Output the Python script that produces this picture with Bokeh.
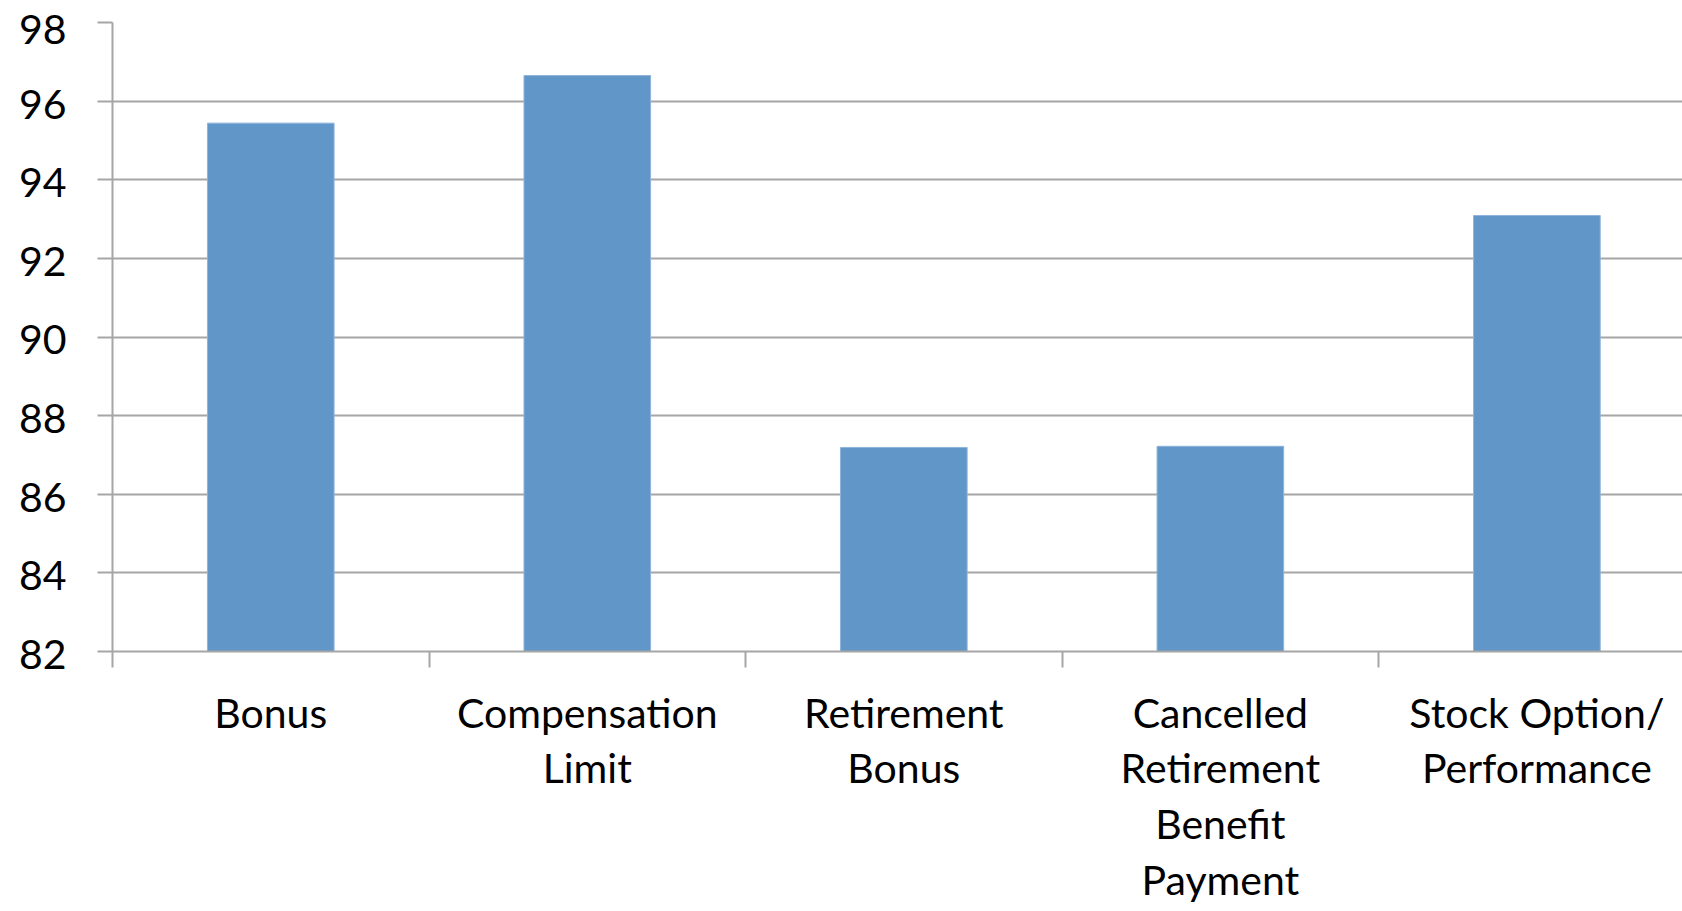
from bokeh.plotting import figure
from bokeh.models import Range1d, FixedTicker, ColumnDataSource
from bokeh.embed import file_html
from bokeh.resources import INLINE

# Categories (multi-line labels) and their values
categories = [
    "Bonus",
    "Compensation\nLimit",
    "Retirement\nBonus",
    "Cancelled\nRetirement\nBenefit\nPayment",
    "Stock Option/\nPerformance",
]
values = [95.44, 96.65, 87.19, 87.22, 93.09]
y_ticks = [82, 84, 86, 88, 90, 92, 94, 96, 98]

centers = [i + 0.5 for i in range(len(categories))]
source = ColumnDataSource(dict(x=centers, top=values))

GRID = "#a6a6a6"
BAR = "#6196c8"
FONT = "Lato"

p = figure(
    width=1682, height=911,
    x_range=Range1d(0, 4.96), y_range=Range1d(82, 98),
    output_backend="svg", toolbar_location=None,
    min_border_left=112, min_border_right=0,
    min_border_top=22, min_border_bottom=260,
)
p.outline_line_color = None
p.background_fill_color = "white"
p.border_fill_color = "white"

p.vbar(x="x", top="top", bottom=82, width=0.4, source=source,
       fill_color=BAR, line_color="#8fb3da", line_width=1)

# Horizontal gridlines only
p.xgrid.visible = False
p.ygrid.grid_line_color = GRID
p.ygrid.grid_line_width = 2
p.ygrid.ticker = FixedTicker(ticks=y_ticks)

# Y axis; an empty leading line with a tight line height lowers each
# number a few pixels under its tick
ya = p.yaxis[0]
ya.ticker = FixedTicker(ticks=y_ticks)
ya.major_label_overrides = {t: "\n" + str(t) for t in y_ticks}
ya.axis_line_color = GRID
ya.axis_line_width = 2
ya.major_tick_line_color = GRID
ya.major_tick_line_width = 2
ya.major_tick_out = 15
ya.major_tick_in = 0
ya.minor_tick_line_color = None
ya.major_label_standoff = 31
ya.major_label_text_font = FONT
ya.major_label_text_font_size = "41px"
ya.major_label_text_color = "black"
ya.major_label_text_line_height = 0.08

# X axis: labels centred on each bar, tick marks on category boundaries
xa = p.xaxis[0]
xa.ticker = FixedTicker(ticks=centers,
                        minor_ticks=list(range(len(categories) + 1)))
xa.major_label_overrides = {c: lab for c, lab in zip(centers, categories)}
xa.axis_line_color = GRID
xa.axis_line_width = 2
xa.major_tick_line_color = None
xa.major_tick_out = 0
xa.major_tick_in = 0
xa.minor_tick_line_color = GRID
xa.minor_tick_line_width = 2
xa.minor_tick_out = 16
xa.minor_tick_in = 0
xa.major_label_standoff = 20
xa.major_label_text_font = FONT
xa.major_label_text_font_size = "41px"
xa.major_label_text_color = "black"
xa.major_label_text_line_height = 1.14

open("out.html", "w").write(file_html(p, INLINE))
